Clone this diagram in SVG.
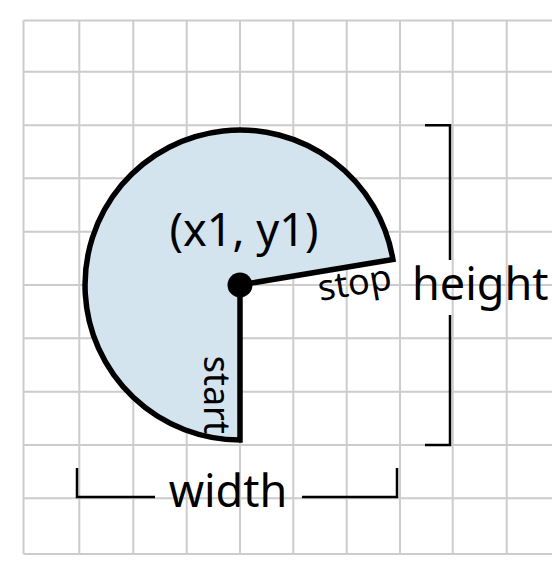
<svg xmlns="http://www.w3.org/2000/svg" width="552" height="564" viewBox="0 0 552 564">
<style>
.grid{stroke:#cccccc;stroke-width:2;fill:none}
.br{stroke:#000;stroke-width:2.5;fill:none}
.lbl{font-family:"Noto Sans","Open Sans",sans-serif;fill:#000}
.big{font-size:45px}
.small{font-size:36px}
</style>
<rect width="552" height="564" fill="#fff"/>
<g id="grid" class="grid">
<path d="M23.5 20.5V554 M79.3 20.5V554 M133.3 20.5V554 M186.7 20.5V554 M240 20.5V554 M293.3 20.5V554 M346.7 20.5V554 M400 20.5V554 M452.7 20.5V554 M506.7 20.5V554"/>
<path d="M23.5 20.5H560 M23.5 71.7H560 M23.5 125.3H560 M23.5 178.3H560 M23.5 231.7H560 M23.5 285H560 M23.5 338.3H560 M23.5 391.7H560 M23.5 445H560 M23.5 498.3H560 M23.5 554H560"/>
</g>
<g id="pie">
<path d="M240 285 L240 440 A155 155 0 1 1 392.9 259.4 Z" fill="#d4e4ee" stroke="#000" stroke-width="5.5" stroke-linejoin="miter"/>
<circle cx="240" cy="285" r="12.5" fill="#000"/>
</g>
<g id="labels">
<text class="lbl big" x="244" y="246" text-anchor="middle">(x1, y1)</text>
<text class="lbl small" transform="translate(320 301) rotate(-9.5)">stop</text>
<text class="lbl small" transform="translate(204 434) rotate(90)" text-anchor="end">start</text>
</g>
<g id="connectors">
<path class="br" d="M425 125.3H450V260 M450 315V445H425"/>
<path class="br" d="M77 468V497H155 M302 497H397V468"/>
</g>
<g id="dims">
<text class="lbl big" x="412" y="300">height</text>
<text class="lbl big" x="228" y="507" text-anchor="middle">width</text>
</g>
</svg>
